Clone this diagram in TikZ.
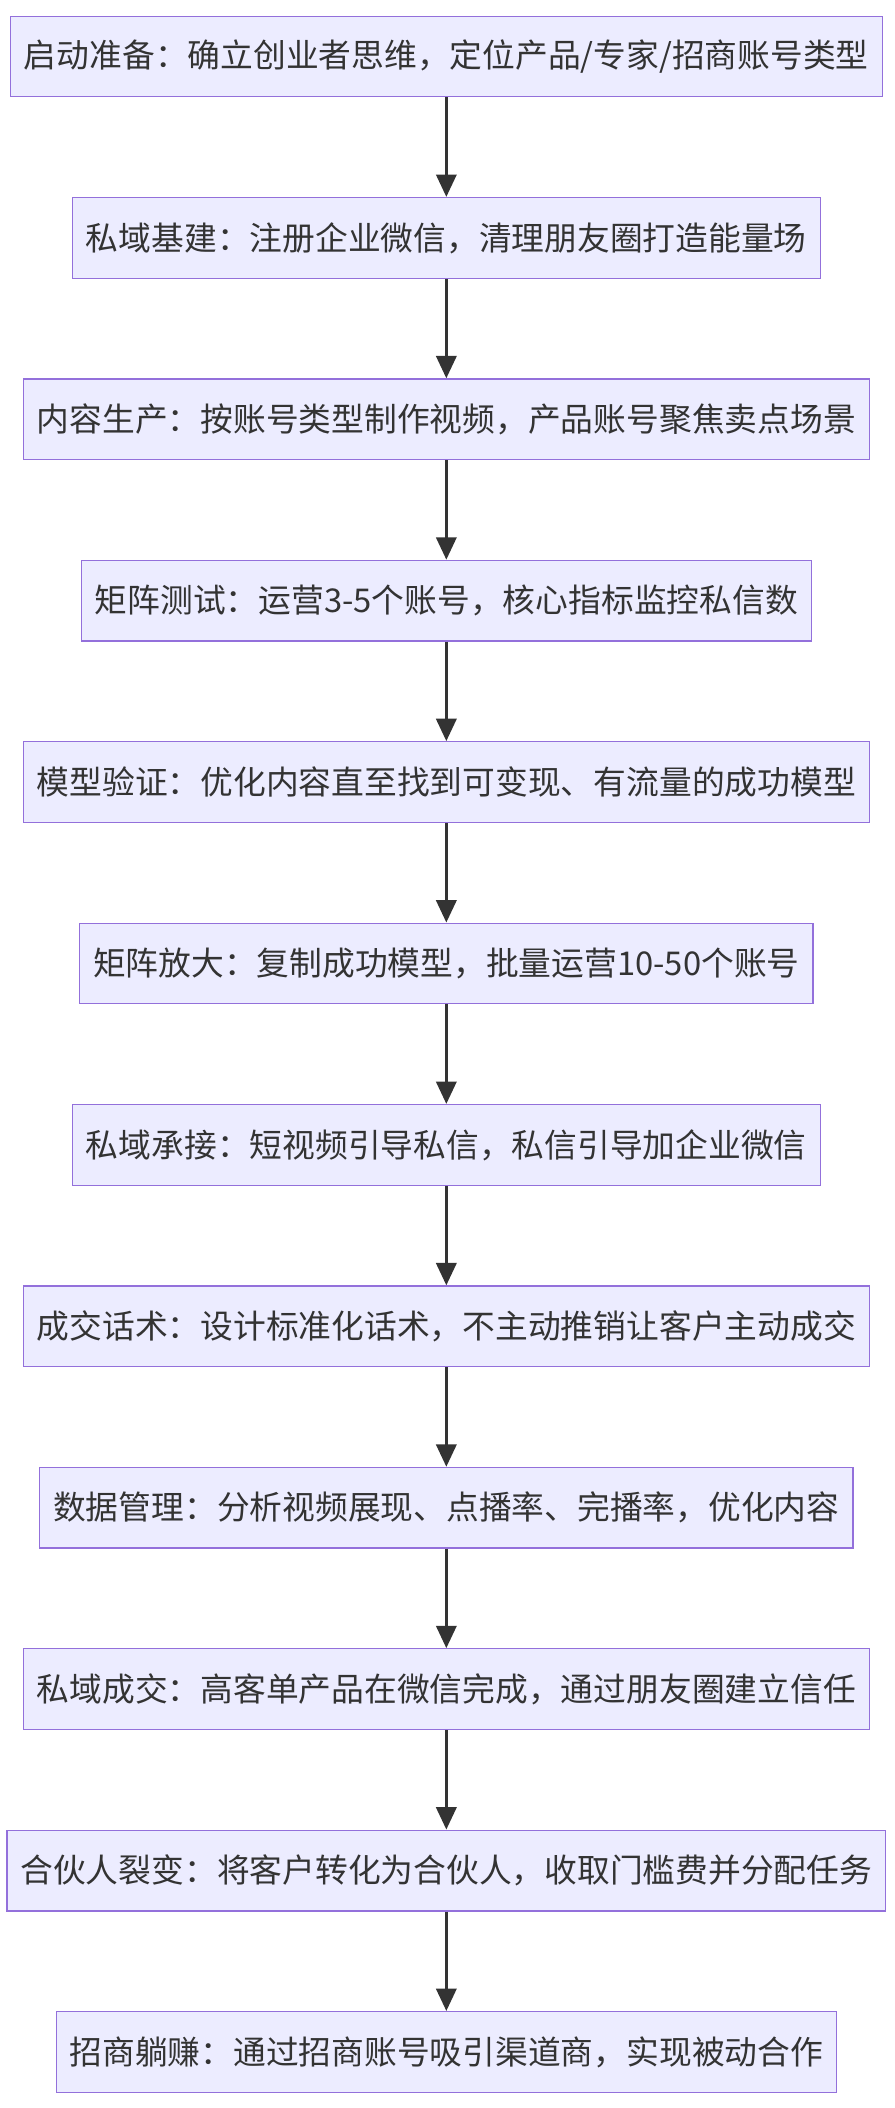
\documentclass[tikz,border=0pt]{standalone}
\usepackage{fontspec}
\newfontfamily\cjk{Noto Sans CJK SC}
\usetikzlibrary{positioning,arrows.meta}
\definecolor{boxfill}{HTML}{ECECFF}
\definecolor{boxline}{HTML}{9370DB}
\definecolor{arrowc}{HTML}{333333}
\tikzset{
  stepbox/.style={draw=boxline,fill=boxfill,line width=0.8pt,minimum height=1.8cm,
    inner xsep=0.3cm,font=\cjk\fontsize{20.8}{24}\selectfont,text=arrowc},
  flow/.style={-{Triangle[length=0.5cm,width=0.45cm]},draw=arrowc,line width=2pt}
}
\begin{document}
\begin{tikzpicture}[node distance=2.22cm]
      \useasboundingbox (0,0) rectangle (19.95,-47.04);
      \node[stepbox] (1) at (9.96,-1.26) {启动准备：确立创业者思维，定位产品/专家/招商账号类型};
      \node[stepbox,below=of 1] (2) {私域基建：注册企业微信，清理朋友圈打造能量场};
      \node[stepbox,below=of 2] (3) {内容生产：按账号类型制作视频，产品账号聚焦卖点场景};
      \node[stepbox,below=of 3] (4) {矩阵测试：运营3-5个账号，核心指标监控私信数};
      \node[stepbox,below=of 4] (5) {模型验证：优化内容直至找到可变现、有流量的成功模型};
      \node[stepbox,below=of 5] (6) {矩阵放大：复制成功模型，批量运营10-50个账号};
      \node[stepbox,below=of 6] (7) {私域承接：短视频引导私信，私信引导加企业微信};
      \node[stepbox,below=of 7] (8) {成交话术：设计标准化话术，不主动推销让客户主动成交};
      \node[stepbox,below=of 8] (9) {数据管理：分析视频展现、点播率、完播率，优化内容};
      \node[stepbox,below=of 9] (10) {私域成交：高客单产品在微信完成，通过朋友圈建立信任};
      \node[stepbox,below=of 10] (11) {合伙人裂变：将客户转化为合伙人，收取门槛费并分配任务};
      \node[stepbox,below=of 11] (12) {招商躺赚：通过招商账号吸引渠道商，实现被动合作};

      \draw[flow] (1) -- (2);
      \draw[flow] (2) -- (3);
      \draw[flow] (3) -- (4);
      \draw[flow] (4) -- (5);
      \draw[flow] (5) -- (6);
      \draw[flow] (6) -- (7);
      \draw[flow] (7) -- (8);
      \draw[flow] (8) -- (9);
      \draw[flow] (9) -- (10);
      \draw[flow] (10) -- (11);
      \draw[flow] (11) -- (12);
    \end{tikzpicture}
\end{document}
